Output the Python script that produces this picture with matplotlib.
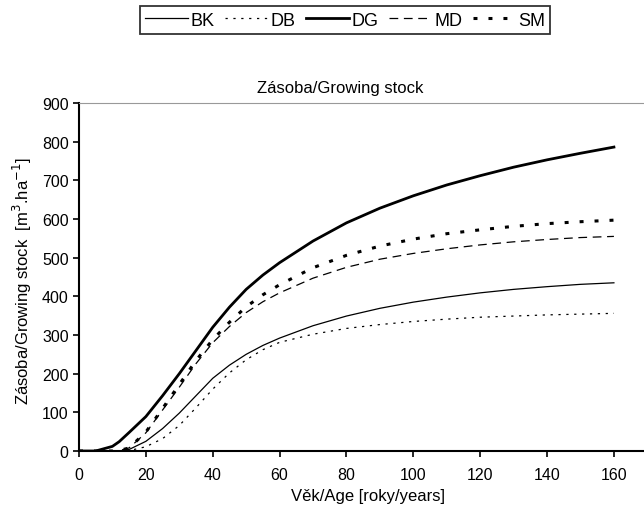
import matplotlib.pyplot as plt

plt.rcParams["font.family"] = ["Liberation Sans", "DejaVu Sans"]

ages = [0, 5, 10, 12, 15, 20, 25, 30, 35, 40, 45, 50, 55, 60, 70, 80, 90, 100, 110, 120, 130, 140, 150, 160]
bk = [0, 0, 0, 0, 4, 25, 58, 98, 143, 188, 222, 250, 273, 292, 324, 349, 369, 385, 398, 409, 418, 425, 431, 435]
db = [0, 0, 0, 0, 1, 11, 32, 66, 112, 160, 202, 236, 262, 281, 302, 317, 327, 335, 341, 346, 349, 352, 354, 356]
dg = [0, 0, 12, 24, 48, 89, 143, 200, 260, 320, 372, 418, 455, 487, 543, 590, 628, 660, 688, 712, 734, 753, 770, 786]
md = [0, 0, 0, 1, 8, 47, 106, 165, 226, 280, 322, 358, 386, 409, 447, 475, 496, 511, 523, 533, 541, 547, 552, 555]
sm = [0, 0, 0, 1, 8, 49, 110, 172, 234, 288, 333, 373, 404, 430, 474, 506, 530, 548, 562, 572, 581, 588, 593, 597]

fig = plt.figure(figsize=(6.44, 5.10), dpi=100)
ax = fig.add_axes([79 / 644, 1 - 452 / 510, 1 - 79 / 644, (452 - 104) / 510])

ax.plot(ages, bk, color="black", lw=0.9, label="BK")
ax.plot(ages, db, color="black", lw=0.9, linestyle=(0, (1.8, 4.5)), label="DB")
ax.plot(ages, dg, color="black", lw=2.0, label="DG")
ax.plot(ages, md, color="black", lw=0.9, linestyle=(0, (7, 4.5)), label="MD")
ax.plot(ages, sm, color="black", lw=2.2, linestyle=(0, (1.3, 3.6)), label="SM")

ax.set_xlim(0, 169)
ax.set_ylim(0, 900)
ax.set_xticks(range(0, 161, 20))
ax.set_yticks(range(0, 901, 100))
ax.tick_params(direction="out", length=4, width=1.2, labelsize=11.5)
ax.tick_params(axis="x", pad=7.5)
ax.tick_params(axis="y", pad=3.5)
ax.spines["right"].set_visible(False)
ax.spines["top"].set_color("#999999")
ax.spines["left"].set_linewidth(1.5)
ax.spines["bottom"].set_linewidth(1.5)

fig.text(340 / 644, 1 - 88 / 510, "Zásoba/Growing stock", ha="center", va="center", fontsize=12)
fig.text(368 / 644, 1 - 497 / 510, "Věk/Age [roky/years]", ha="center", va="center", fontsize=12)
fig.text(22 / 644, 1 - 281 / 510, "Zásoba/Growing stock  [m$^3$.ha$^{-1}$]", ha="center", va="center",
         rotation=90, fontsize=12)

leg = fig.legend(loc="center", bbox_to_anchor=(345 / 644, 1 - 21 / 510), ncol=5, fontsize=13,
                 frameon=True, fancybox=False, edgecolor="black", handlelength=2.4,
                 handletextpad=0.1, columnspacing=0.6, borderpad=0.3, borderaxespad=0)
leg.get_frame().set_linewidth(1.3)

fig.savefig("out.png", dpi=100)
